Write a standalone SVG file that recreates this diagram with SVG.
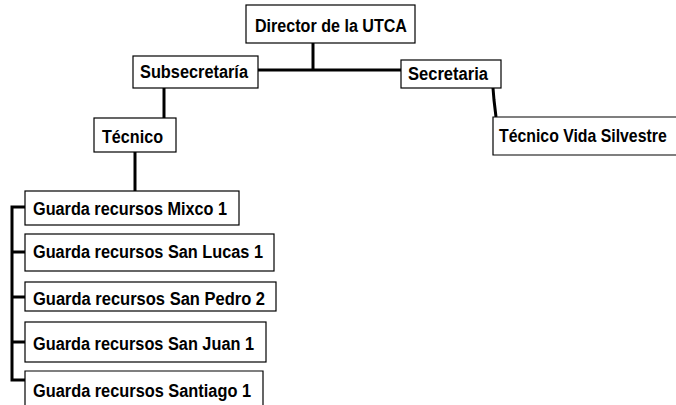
<svg xmlns="http://www.w3.org/2000/svg" width="676" height="405" viewBox="0 0 676 405">
<style>
.box{fill:#fff;stroke:#000;stroke-width:1.2}
.t{font-family:"Liberation Sans",Arial,sans-serif;font-weight:bold;font-size:18px;fill:#000}
.c{stroke:#000;stroke-width:3;fill:none}
</style>
<rect width="676" height="405" fill="#fff"/>
<g id="connectors">
<line class="c" x1="313" y1="43" x2="313" y2="70"/>
<line class="c" x1="258" y1="70" x2="401" y2="70"/>
<line class="c" x1="164" y1="88" x2="164" y2="118"/>
<line class="c" x1="135" y1="152" x2="135" y2="191"/>
<polyline class="c" points="493,88 494,100 496,117"/>
<polyline class="c" points="25,207 12,207 12,380 25,380"/>
<line class="c" x1="12" y1="252" x2="25" y2="252"/>
<line class="c" x1="12" y1="297" x2="25" y2="297"/>
<line class="c" x1="12" y1="342" x2="25" y2="342"/>
</g>
<g id="director"><rect class="box" x="246" y="5" width="169" height="38"/><text class="t" x="255" y="32" textLength="152" lengthAdjust="spacingAndGlyphs">Director de la UTCA</text></g>
<g id="subsecretaria"><rect class="box" x="133" y="56" width="125" height="32"/><text class="t" x="140" y="78" textLength="108" lengthAdjust="spacingAndGlyphs">Subsecretaría</text></g>
<g id="secretaria"><rect class="box" x="401" y="60" width="100" height="28"/><text class="t" x="408" y="80" textLength="80" lengthAdjust="spacingAndGlyphs">Secretaria</text></g>
<g id="tecnico"><rect class="box" x="94" y="118" width="82" height="34"/><text class="t" x="102" y="143" textLength="61" lengthAdjust="spacingAndGlyphs">Técnico</text></g>
<g id="tecnico-vida"><path class="box" d="M676,117 H493 V155 H676"/><text class="t" transform="translate(499,142) scale(0.88,1)" x="0" y="0">Técnico Vida Silvestre</text></g>
<g id="mixco"><rect class="box" x="25" y="191" width="214" height="34"/><text class="t" x="33" y="215" textLength="194" lengthAdjust="spacingAndGlyphs">Guarda recursos Mixco 1</text></g>
<g id="sanlucas"><rect class="box" x="25" y="234" width="249" height="37"/><text class="t" x="33" y="258" textLength="230" lengthAdjust="spacingAndGlyphs">Guarda recursos San Lucas 1</text></g>
<g id="sanpedro"><rect class="box" x="25" y="282" width="251" height="29"/><text class="t" x="33" y="305" textLength="232" lengthAdjust="spacingAndGlyphs">Guarda recursos San Pedro 2</text></g>
<g id="sanjuan"><rect class="box" x="25" y="322" width="241" height="40"/><text class="t" x="33" y="350" textLength="221" lengthAdjust="spacingAndGlyphs">Guarda recursos San Juan 1</text></g>
<g id="santiago"><path class="box" d="M25,406 V371 H263 V406"/><text class="t" x="33" y="397" textLength="218" lengthAdjust="spacingAndGlyphs">Guarda recursos Santiago 1</text></g>
</svg>
